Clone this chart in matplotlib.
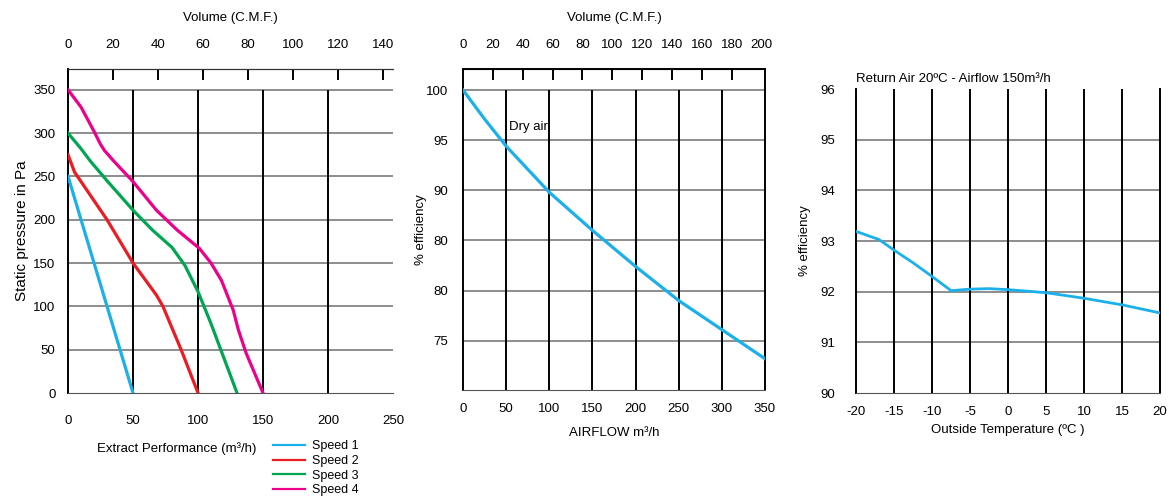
import numpy as np
import matplotlib
matplotlib.use('Agg')
import matplotlib.pyplot as plt

plt.rcParams['font.family'] = ['Liberation Sans', 'DejaVu Sans']
plt.rcParams['font.size'] = 9.5
plt.rcParams['axes.unicode_minus'] = False

# --- data: fan curves (m3/h vs Pa)
speed1_x = [0, 50]
speed1_y = [250, 0]
speed2_x = [0, 5, 10, 30, 50, 68, 73, 87, 100]
speed2_y = [275, 255, 244, 200, 150, 113, 100, 50, 0]
speed3_x = [0, 10, 17, 30, 50, 65, 80, 90, 100, 110, 120, 130]
speed3_y = [300, 282, 268, 245, 211, 188, 168, 147, 117, 80, 40, 0]
speed4_x = [0, 10, 20, 25, 28, 35, 50, 68, 84, 101, 110, 118, 127, 131, 137, 150]
speed4_y = [350, 330, 302, 287, 280, 268, 244, 211, 188, 167, 150, 130, 96, 73, 46, 0]
speed_labels = ['Speed 1', 'Speed 2', 'Speed 3', 'Speed 4']
speed_colors = ['#1bb0ea', '#ec1c24', '#00a651', '#ec008c']

# --- data: efficiency vs airflow
airflow = [0, 25, 50, 100, 150, 200, 250, 300, 350]
eff_airflow = [100, 97.1, 94.4, 89.8, 86.0, 82.4, 79.0, 76.1, 73.2]
eff_ticks = [75, 80, 85, 90, 95, 100]
eff_ticklabels = ['75', '80', '80', '90', '95', '100']

# --- data: efficiency vs outside temperature
temp = [-20, -17, -15, -12.5, -10, -7.5, -5, -2.5, 0, 5, 10, 15, 20]
eff_temp = [93.19, 93.03, 92.82, 92.57, 92.30, 92.02, 92.05, 92.06, 92.04, 91.98, 91.87, 91.74, 91.58]

CFM = 1.73  # m3/h per CFM as drawn on the chart
blue = '#1bb0ea'
gridgray = '#7a7a7a'

fig = plt.figure(figsize=(11.69, 4.99), dpi=100)
ax1 = fig.add_axes([0.0582, 0.2124, 0.2780, 0.6493])
ax2 = fig.add_axes([0.3961, 0.2194, 0.2583, 0.6423])
ax3 = fig.add_axes([0.7323, 0.2124, 0.2601, 0.6092])

# ---------- panel 1
ax1.set_xlim(0, 250)
ax1.set_ylim(0, 374)
for y in range(50, 351, 50):
    ax1.axhline(y, color=gridgray, lw=1.2, zorder=1)
ax1.vlines([50, 100, 150, 200], 0, 350, color='black', lw=1.4, zorder=1)
for xs, ys, c, lab in zip([speed1_x, speed2_x, speed3_x, speed4_x],
                          [speed1_y, speed2_y, speed3_y, speed4_y],
                          speed_colors, speed_labels):
    ax1.plot(xs, ys, color=c, lw=2.3, label=lab, zorder=3)
ax1.set_xticks([0, 50, 100, 150, 200, 250])
ax1.set_yticks(range(0, 351, 50))
ax1.tick_params(axis='both', length=0)
ax1.tick_params(axis='x', pad=16)
ax1.tick_params(axis='y', pad=9)
ax1.spines['right'].set_visible(False)
ax1.spines['left'].set_color('black')
ax1.spines['left'].set_linewidth(1.4)
ax1.spines['top'].set_color('#333333')
ax1.spines['bottom'].set_color('#555555')
ax1.set_ylabel('Static pressure in Pa', fontsize=11, labelpad=3)
ax1.set_xlabel('Extract Performance (m³/h)')
ax1.xaxis.set_label_coords(0.335, -0.152)
sec1 = ax1.secondary_xaxis('top', functions=(lambda x: x / CFM, lambda c: c * CFM))
sec1.set_xticks(range(0, 141, 20))
sec1.tick_params(direction='in', length=8, width=1.4, pad=13)
sec1.set_xlabel('Volume (C.M.F.)', labelpad=13)
leg = ax1.legend(loc='upper left', bbox_to_anchor=(267 / 1169, 1 - 434 / 499),
                 bbox_transform=fig.transFigure, frameon=False, handlelength=2.5,
                 labelspacing=0.22, borderpad=0, handletextpad=0.6, fontsize=9)
for ln in leg.get_lines():
    ln.set_linewidth(1.6)

# ---------- panel 2
ax2.set_xlim(0, 350)
ax2.set_ylim(70.13, 102.1)
for y in eff_ticks:
    ax2.axhline(y, color=gridgray, lw=1.2, zorder=1)
ax2.vlines([50, 100, 150, 200, 250, 300], 70.13, 100, color='black', lw=1.4, zorder=1)
ax2.plot(airflow, eff_airflow, color=blue, lw=2.3, zorder=3)
ax2.text(53, 96.3, 'Dry air', va='center', ha='left', fontsize=9.5)
ax2.set_xticks(range(0, 351, 50))
ax2.set_yticks(eff_ticks)
ax2.set_yticklabels(eff_ticklabels)
ax2.tick_params(axis='both', length=0)
ax2.tick_params(axis='x', pad=10)
ax2.tick_params(axis='y', pad=11)
for s in ['left', 'right', 'top']:
    ax2.spines[s].set_color('black')
    ax2.spines[s].set_linewidth(1.4)
ax2.spines['bottom'].set_color('#555555')
ax2.set_ylabel('% efficiency', labelpad=-1)
ax2.set_xlabel('AIRFLOW m³/h', labelpad=8)
sec2 = ax2.secondary_xaxis('top', functions=(lambda x: x / CFM, lambda c: c * CFM))
sec2.set_xticks(range(20, 181, 20))
sec2.set_xticks([0, 200], minor=True)
sec2.set_xticklabels([str(v) for v in range(20, 181, 20)])
sec2.set_xticklabels(['0', '200'], minor=True)
sec2.tick_params(which='both', direction='in', length=8, width=1.4, pad=13)
sec2.tick_params(which='minor', length=0, pad=13)
sec2.set_xlabel('Volume (C.M.F.)', labelpad=13)

# ---------- panel 3
ax3.set_xlim(-20, 20)
ax3.set_ylim(90, 96)
for y in [91, 92, 93, 94, 95]:
    ax3.axhline(y, color=gridgray, lw=1.2, zorder=1)
ax3.vlines([-15, -10, -5, 0, 5, 10, 15], 90, 96, color='black', lw=1.4, zorder=1)
ax3.plot(temp, eff_temp, color=blue, lw=2.0, zorder=3)
ax3.set_xticks(range(-20, 21, 5))
ax3.set_yticks(range(90, 97))
ax3.tick_params(axis='both', length=0)
ax3.tick_params(axis='x', pad=9)
ax3.tick_params(axis='y', pad=15)
ax3.spines['top'].set_visible(False)
for s in ['left', 'right']:
    ax3.spines[s].set_color('black')
    ax3.spines[s].set_linewidth(1.4)
ax3.spines['bottom'].set_color('#555555')
ax3.set_ylabel('% efficiency', labelpad=7)
ax3.set_xlabel('Outside Temperature (ºC )', labelpad=5)
ax3.set_title('Return Air 20ºC - Airflow 150m³/h', loc='left', fontsize=9.5, pad=5)

fig.savefig('out.png', dpi=100)
